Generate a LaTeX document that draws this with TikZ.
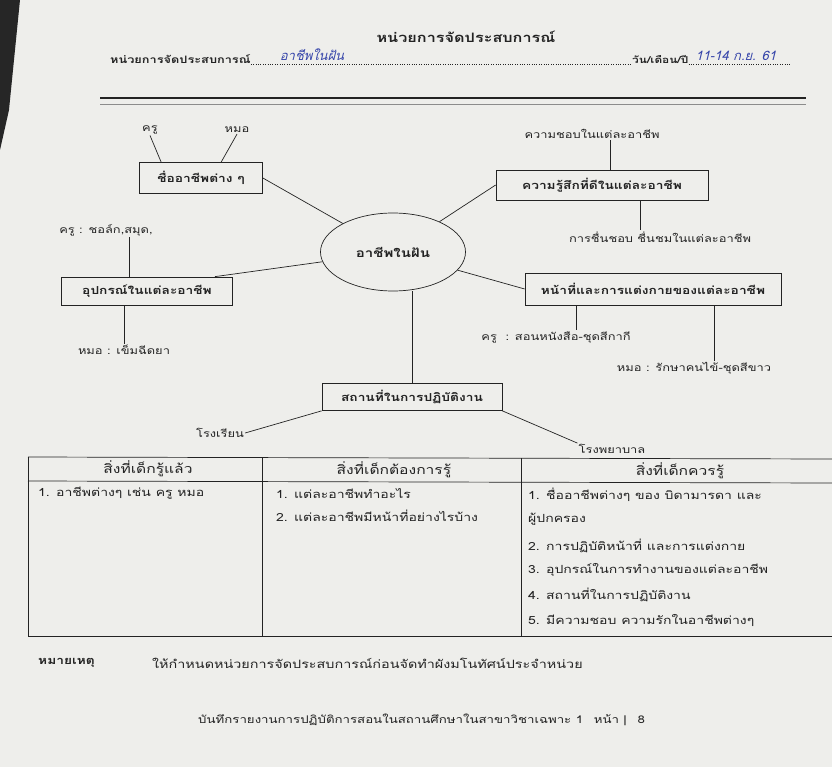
\documentclass[tikz,border=0pt]{standalone}
\usepackage{fontspec}
\setmainfont{Loma}[Script=Thai,FakeStretch=1.25]
\newfontfamily\handfont{Loma}[Script=Thai,FakeSlant=0.25]
\usetikzlibrary{shapes.geometric,calc,positioning}

\definecolor{paper}{RGB}{238,238,235}
\definecolor{ink}{RGB}{35,35,35}
\definecolor{pen}{RGB}{55,70,170}

\tikzset{
  topic/.style={draw=ink, line width=0.7pt, font=\bfseries\fontsize{11}{13}\selectfont, text=ink, inner sep=2pt},
  leaf/.style={font=\fontsize{10.3}{12}\selectfont, text=ink, inner sep=1pt},
  link/.style={draw=ink, line width=0.7pt},
  cell/.style={anchor=west, font=\fontsize{11.2}{13}\selectfont, text=ink, inner sep=0pt},
  headcell/.style={font=\fontsize{12.5}{15}\selectfont, text=ink, inner sep=0pt},
  rule/.style={draw=ink, line width=0.7pt},
}

\begin{document}
\begin{tikzpicture}[x=1pt,y=-1pt]
\useasboundingbox (0,0) rectangle (832,767);
\fill[paper] (0,0) rectangle (832,767);
\fill[black!85] (0,0) -- (20,0) -- (9,110) -- (0,150) -- cycle;

% Heading
\node[font=\bfseries\fontsize{13}{15}\selectfont, text=ink] (title) at (466,37) {หน่วยการจัดประสบการณ์};
\node[font=\bfseries\fontsize{10.2}{12}\selectfont, text=ink, anchor=base west, inner sep=0pt] (unitlbl) at (110,64) {หน่วยการจัดประสบการณ์};
\node[font=\bfseries\fontsize{9.5}{12}\selectfont, text=ink, anchor=base west, inner sep=0pt] (datelbl) at (632,64) {วัน/เดือน/ปี};
\node[font=\handfont\fontsize{13}{15}\selectfont, text=pen] (unitname) at (312,55) {อาชีพในฝัน};
\node[font=\handfont\fontsize{13}{15}\selectfont, text=pen, anchor=west] (datename) at (692,56) {11-14 ก.ย. 61};
\coordinate (dotend) at (790,64);
\draw[dotted, ink] (unitlbl.base east) -- (datelbl.base west);
\draw[dotted, ink] (datelbl.base east) -- (dotend);

% Rules
\draw[line width=2.6pt, ink] (100,98) -- (806,98);
\draw[line width=0.6pt, black!45] (100,104) -- (806,104);

% Centre
\node[draw=ink, ellipse, line width=0.7pt, minimum width=145pt, minimum height=78pt,
  font=\bfseries\fontsize{12}{14}\selectfont, text=ink] (dream) at (393,252) {อาชีพในฝัน};

% Topics
\node[topic, minimum width=123pt, minimum height=31pt] (names) at (201,178) {ชื่ออาชีพต่าง ๆ};
\node[topic, minimum width=212pt, minimum height=30pt] (feeling) at (602,185) {ความรู้สึกที่ดีในแต่ละอาชีพ};
\node[topic, minimum width=171pt, minimum height=28pt] (tools) at (147,291) {อุปกรณ์ในแต่ละอาชีพ};
\node[topic, minimum width=256pt, minimum height=32pt] (duty) at (653,289) {หน้าที่และการแต่งกายของแต่ละอาชีพ};
\node[topic, minimum width=180pt, minimum height=27pt] (place) at (412,397) {สถานที่ในการปฏิบัติงาน};

% Leaves
\node[leaf] (kru) at (150,130) {ครู};
\node[leaf] (mo) at (237,130) {หมอ};
\node[leaf] (like) at (592,134) {ความชอบในแต่ละอาชีพ};
\node[leaf] (admire) at (660,237) {การชื่นชอบ ชื่นชมในแต่ละอาชีพ};
\node[leaf] (chalk) at (106,230) {ครู : ชอล์ก,สมุด,};
\node[leaf] (needle) at (124,350) {หมอ : เข็มฉีดยา};
\node[leaf] (teach) at (556,337) {ครู~ : สอนหนังสือ-ชุดสีกากี};
\node[leaf] (treat) at (694,368) {หมอ : รักษาคนไข้-ชุดสีขาว};
\node[leaf] (school) at (220,433) {โรงเรียน};
\node[leaf] (hosp) at (612,449) {โรงพยาบาล};

% Spokes
\draw[link] (names.east) -- (dream);
\draw[link] (feeling.west) -- (dream);
\draw[link] ($(tools.north east)+(-18,0)$) -- (dream);
\draw[link] (dream) -- (duty.west);
\draw[link] (place.north) -- (place.north |- dream.south);

% Branches
\draw[link] (kru.south) -- ($(names.north west)+(22,0)$);
\draw[link] (mo.south) -- ($(names.north west)+(82,0)$);
\coordinate (fa) at ($(feeling.north west)+(115,0)$);
\coordinate (fb) at ($(feeling.south west)+(145,0)$);
\draw[link] (fa) -- (fa |- like.south);
\draw[link] (fb) -- (fb |- admire.north);
\coordinate (ta) at ($(tools.north west)+(68,0)$);
\coordinate (tb) at ($(tools.south west)+(63,0)$);
\draw[link] (ta) -- (ta |- chalk.south);
\draw[link] (tb) -- (tb |- needle.north);
\coordinate (da) at ($(duty.south west)+(52,0)$);
\coordinate (db) at ($(duty.south west)+(190,0)$);
\draw[link] (da) -- (da |- teach.north);
\draw[link] (db) -- (db |- treat.north);
\draw[link] (place.south west) -- (school.east);
\draw[link] (place.south east) -- (hosp.north west);

% Table
\draw[rule] (28,457) -- (832,459);
\draw[rule] (28,481) -- (832,483);
\draw[rule] (28,636) -- (832,636);
\draw[rule] (28,457) -- (28,636);
\draw[rule] (262,457) -- (262,636);
\draw[rule] (521,458) -- (521,636);

\node[headcell] (h1) at (148,469) {สิ่งที่เด็กรู้แล้ว};
\node[headcell] (h2) at (394,470) {สิ่งที่เด็กต้องการรู้};
\node[headcell] (h3) at (680,471) {สิ่งที่เด็กควรรู้};

\node[cell] (a1) at (38,493) {1. อาชีพต่างๆ เช่น ครู หมอ};
\node[cell] (b1) at (276,493) {1. แต่ละอาชีพทำอะไร};
\node[cell] (b2) at (276,516) {2. แต่ละอาชีพมีหน้าที่อย่างไรบ้าง};
\node[cell] (c1) at (528,495) {1. ชื่ออาชีพต่างๆ ของ บิดามารดา และ};
\node[cell] (c1b) at (528,519) {ผู้ปกครอง};
\node[cell] (c2) at (528,546) {2. การปฏิบัติหน้าที่ และการแต่งกาย};
\node[cell] (c3) at (528,570) {3. อุปกรณ์ในการทำงานของแต่ละอาชีพ};
\node[cell] (c4) at (528,595) {4. สถานที่ในการปฏิบัติงาน};
\node[cell] (c5) at (528,620) {5. มีความชอบ ความรักในอาชีพต่างๆ};

% Note and footer
\node[anchor=west, font=\bfseries\fontsize{11}{13}\selectfont, text=ink, inner sep=0pt] (notelbl) at (38,663) {หมายเหตุ};
\node[anchor=west, font=\fontsize{11.5}{13}\selectfont, text=ink, inner sep=0pt] (notetxt) at (152,663) {ให้กำหนดหน่วยการจัดประสบการณ์ก่อนจัดทำผังมโนทัศน์ประจำหน่วย};
\node[anchor=west, font=\fontsize{10.6}{12}\selectfont, text=ink, inner sep=0pt] (footer) at (198,720) {บันทึกรายงานการปฏิบัติการสอนในสถานศึกษาในสาขาวิชาเฉพาะ 1\quad หน้า |\quad 8};
\end{tikzpicture}
\end{document}
